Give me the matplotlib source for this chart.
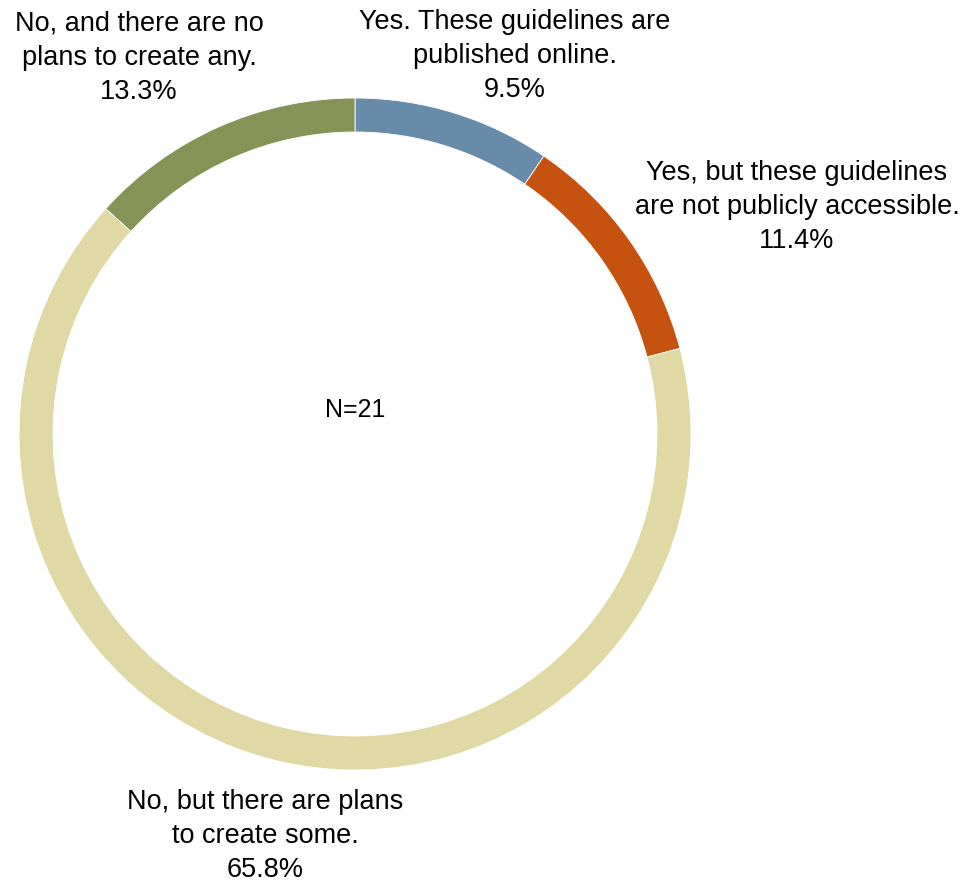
import matplotlib
matplotlib.use("Agg")
import matplotlib.pyplot as plt

labels = [
    "Yes. These guidelines are\npublished online.",
    "Yes, but these guidelines\nare not publicly accessible.",
    "No, but there are plans\nto create some.",
    "No, and there are no\nplans to create any.",
]
shares = [9.5, 11.4, 65.8, 13.3]
colors = ["#678BA8", "#C5520E", "#E0D9A5", "#869356"]
n_total = 21

# label anchor positions in pixel space (x from left, y from top)
label_pos = [(515, 56), (797, 207), (265, 836), (139, 58)]

W, H = 966, 884
plt.rcParams["font.family"] = ["Liberation Sans", "DejaVu Sans"]

fig = plt.figure(figsize=(W / 100, H / 100), dpi=100)
ax = fig.add_axes([0, 0, 1, 1])

cx, cy, r = 355, H - 434, 336
ax.pie(shares, colors=colors, startangle=90, counterclock=False,
       center=(cx, cy), radius=r, frame=True,
       wedgeprops=dict(width=34, edgecolor="white", linewidth=0.6))
ax.set_xlim(0, W)
ax.set_ylim(0, H)
ax.set_aspect("equal")
ax.axis("off")

for lab, v, (px, py) in zip(labels, shares, label_pos):
    ax.text(px, H - py, f"{lab}\n{v:.1f}%", ha="center", va="center",
            fontsize=19.5, linespacing=1.42, color="black")

ax.text(cx, H - 410, f"N={n_total}", ha="center", va="center",
        fontsize=18, color="black")

fig.savefig("out.png", dpi=100)
